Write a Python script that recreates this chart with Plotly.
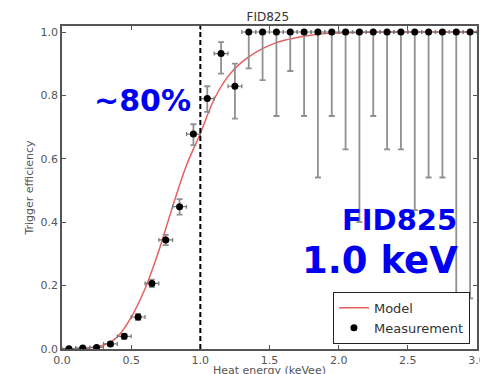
import plotly.graph_objects as go

# ---- data ----
energy = [0.05, 0.15, 0.25, 0.35, 0.45, 0.55, 0.65, 0.75, 0.85, 0.95,
          1.05, 1.15, 1.25, 1.35, 1.45, 1.55, 1.65, 1.75, 1.85, 1.95,
          2.05, 2.15, 2.25, 2.35, 2.45, 2.55, 2.65, 2.75, 2.85, 2.95]
efficiency = [0.001, 0.003, 0.005, 0.016, 0.040, 0.101, 0.207, 0.344, 0.449, 0.678,
              0.790, 0.932, 0.829, 1.0, 1.0, 1.0, 1.0, 1.0, 1.0, 1.0,
              1.0, 1.0, 1.0, 1.0, 1.0, 1.0, 1.0, 1.0, 1.0, 1.0]
err_plus = [0.002, 0.003, 0.004, 0.006, 0.008, 0.010, 0.012, 0.016, 0.024, 0.031,
            0.039, 0.036, 0.071, 0.0, 0.0, 0.0, 0.0, 0.0, 0.0, 0.0,
            0.0, 0.0, 0.0, 0.0, 0.0, 0.0, 0.0, 0.0, 0.0, 0.0]
err_minus = [0.001, 0.003, 0.004, 0.006, 0.008, 0.010, 0.012, 0.016, 0.025, 0.035,
             0.042, 0.063, 0.102, 0.115, 0.152, 0.265, 0.123, 0.265, 0.459, 0.265,
             0.370, 0.600, 0.265, 0.370, 0.370, 0.562, 0.459, 0.459, 0.840, 0.840]
energy_halfwidth = [0.05] * 30

model_energy = [0.0, 0.1, 0.2, 0.3, 0.4, 0.5, 0.6, 0.7, 0.8, 0.9, 1.0,
                1.1, 1.2, 1.3, 1.4, 1.5, 1.6, 1.7, 1.8, 1.9, 2.0,
                2.2, 2.5, 2.8, 3.0]
model_eff = [0.0, 0.001, 0.004, 0.012, 0.038, 0.100, 0.190, 0.310, 0.450, 0.580, 0.680,
             0.788, 0.860, 0.905, 0.936, 0.958, 0.973, 0.983, 0.990, 0.995, 0.997,
             0.999, 1.0, 1.0, 1.0]

threshold = 1.0
x_ticks = [0.0, 0.5, 1.0, 1.5, 2.0, 2.5, 3.0]
y_ticks = [0.0, 0.2, 0.4, 0.6, 0.8, 1.0]

FONT = "DejaVu Sans"
AX = "#555555"

fig = go.Figure()
fig.add_trace(go.Scatter(
    x=model_energy, y=model_eff, mode="lines", name="Model",
    line=dict(color="#e5605f", width=1.5, shape="spline")))
fig.add_trace(go.Scatter(
    x=energy, y=efficiency, mode="markers", name="Measurement",
    marker=dict(color="black", size=7),
    error_y=dict(type="data", symmetric=False, array=err_plus, arrayminus=err_minus,
                 color="#909090", thickness=1.8, width=3),
    error_x=dict(type="data", array=energy_halfwidth, color="#777777",
                 thickness=1.2, width=2)))

fig.add_shape(type="line", xref="x", yref="paper", x0=threshold, x1=threshold,
              y0=0, y1=1, line=dict(color="black", width=2, dash="5px,3px"))

axis_common = dict(showgrid=False, zeroline=False, showline=True, linecolor=AX,
                   linewidth=1.5, mirror="ticks", ticks="inside", ticklen=4,
                   tickcolor=AX, tickwidth=1, ticklabeloverflow="allow",
                   tickfont=dict(family=FONT, size=11, color=AX))
fig.update_xaxes(range=[0, 3], tickvals=x_ticks,
                 ticktext=[f"{v:.1f}" for v in x_ticks],
                 automargin=False, **axis_common)
fig.update_yaxes(range=[0, 1.019], tickvals=y_ticks,
                 ticktext=[f"{v:.1f}" for v in y_ticks],
                 title=dict(text="Trigger efficiency",
                            font=dict(family=FONT, size=11, color=AX), standoff=5),
                 automargin=False, **axis_common)

# x-axis title placed as text just below the tick labels (cut by the page edge as in the original)
fig.add_annotation(text="Heat energy (keVee)", xref="paper", yref="paper",
                   x=0.5, y=-0.066, xanchor="center", yanchor="middle",
                   showarrow=False, font=dict(family=FONT, size=11, color=AX))

blue = "#0000f0"
fig.add_annotation(text="<b>~80%</b>", xref="x", yref="y", x=0.945, y=0.783,
                   xanchor="right", yanchor="middle", showarrow=False,
                   font=dict(family=FONT, size=30, color=blue))
fig.add_annotation(text="<b>FID825</b>", xref="x", yref="y", x=2.867, y=0.407,
                   xanchor="right", yanchor="middle", showarrow=False,
                   font=dict(family=FONT, size=29, color=blue))
fig.add_annotation(text="<b>1.0 keV</b>", xref="x", yref="y", x=2.875, y=0.280,
                   xanchor="right", yanchor="middle", showarrow=False,
                   font=dict(family=FONT, size=37, color=blue))

fig.update_layout(
    width=480, height=374,
    margin=dict(l=62, r=3, t=26, b=25, pad=0),
    paper_bgcolor="white", plot_bgcolor="white",
    title=dict(text="FID825", x=0.558, xanchor="center", y=1 - 17 / 374,
               yanchor="middle", font=dict(family=FONT, size=12, color="#333333")),
    showlegend=True,
    legend=dict(x=0.983, y=0.016, xanchor="right", yanchor="bottom",
                bordercolor="#222222", borderwidth=1, bgcolor="white",
                font=dict(family=FONT, size=13, color="#333333"),
                tracegroupgap=0, itemwidth=30),
)

fig.write_html("out.html", config={"displayModeBar": False},
               post_script="document.body.style.margin='0';document.body.style.overflow='hidden';")
